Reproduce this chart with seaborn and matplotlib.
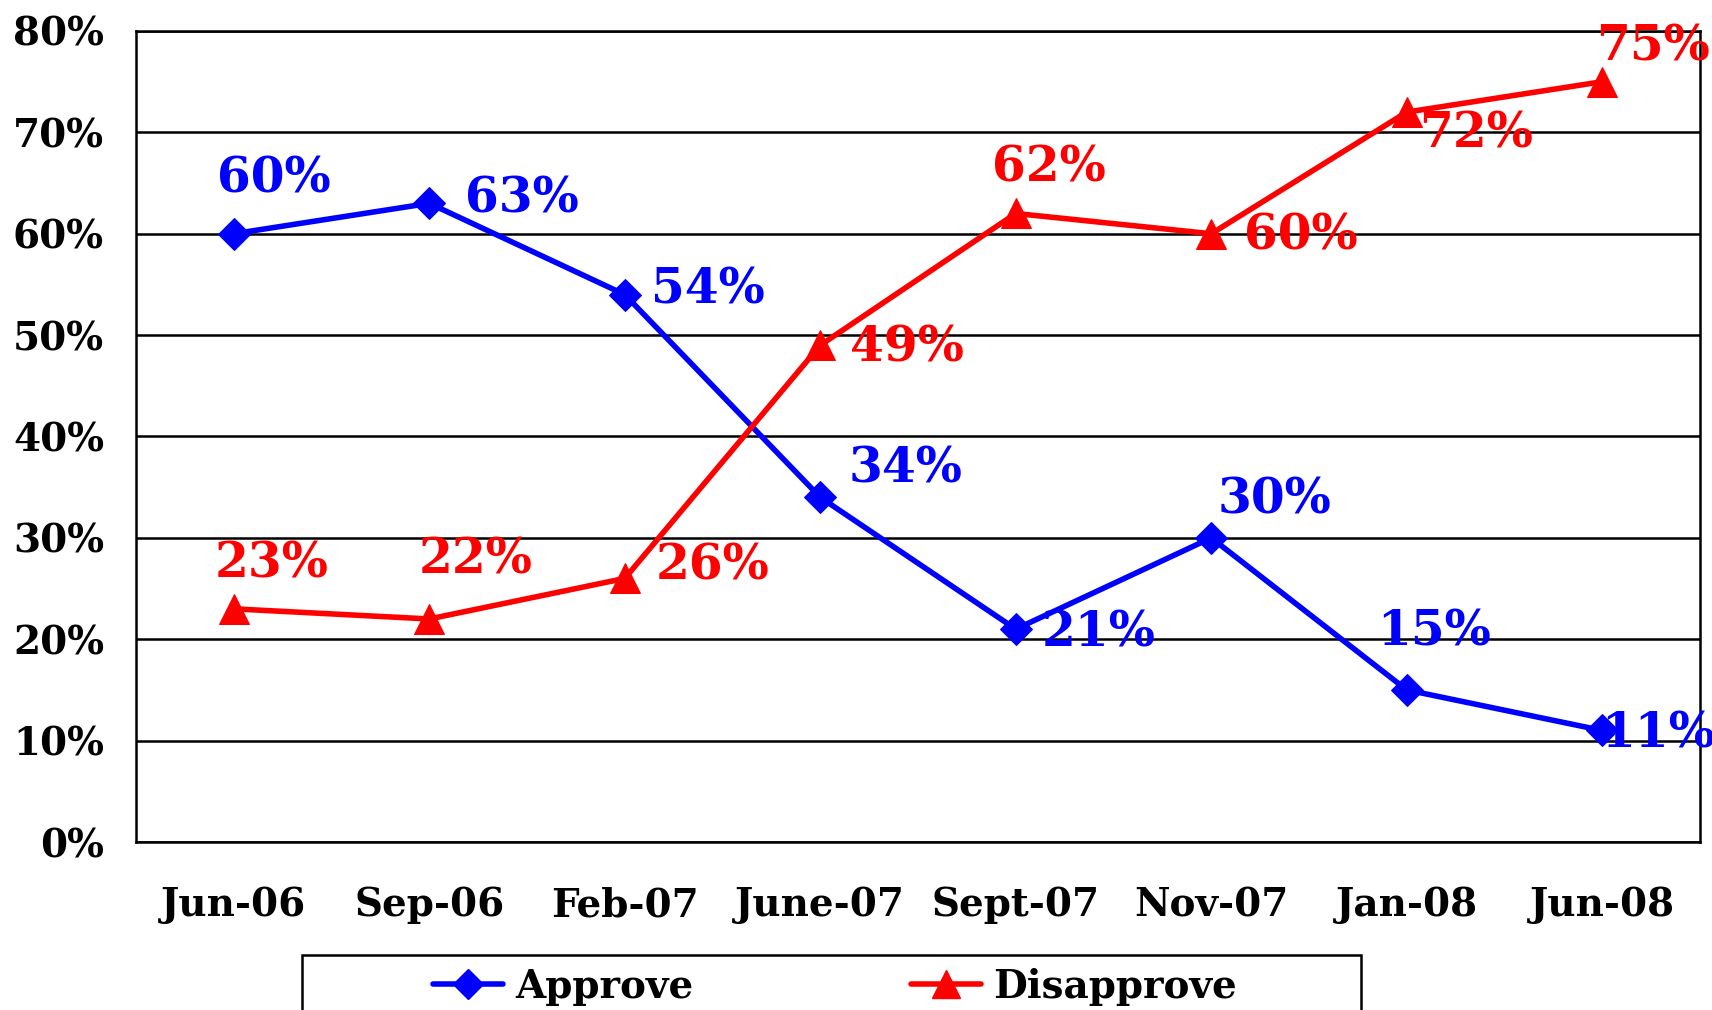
import matplotlib
matplotlib.use('Agg')
import matplotlib.pyplot as plt
import matplotlib.lines as mlines
import matplotlib.patches as mpatches
import numpy as np
import pandas as pd
import seaborn as sns

months = ['Jun-06', 'Sep-06', 'Feb-07', 'June-07', 'Sept-07', 'Nov-07', 'Jan-08', 'Jun-08']
approve = [60, 63, 54, 34, 21, 30, 15, 11]
disapprove = [23, 22, 26, 49, 62, 60, 72, 75]
y_ticks = [0, 10, 20, 30, 40, 50, 60, 70, 80]

# label offsets in pixels (dx, dy) from each point
approve_offsets = [(40, 55), (93, 4), (83, 5), (85, 28), (83, -4), (63, 38), (27, 58), (56, -4)]
disapprove_offsets = [(38, 45), (46, 59), (88, 12), (87, -3), (33, 45), (90, -2), (69, -22), (51, 35)]

sns.set_style('white')
plt.rcParams['font.family'] = ['DejaVu Serif']
plt.rcParams['font.weight'] = 'bold'
plt.rcParams['text.color'] = 'black'
plt.rcParams['xtick.color'] = 'black'
plt.rcParams['ytick.color'] = 'black'

df = pd.DataFrame({
    'x': list(range(len(months))) * 2,
    'value': approve + disapprove,
    'series': ['Approve'] * len(months) + ['Disapprove'] * len(months),
})

colors = {'Approve': '#0000FF', 'Disapprove': '#FF0000'}
marker_map = {'Approve': 'D', 'Disapprove': '^'}
marker_sizes = {'Approve': 16, 'Disapprove': 21}

fig = plt.figure(figsize=(17.12, 10.10), dpi=100)
ax = fig.add_axes([136 / 1712, 1 - 842 / 1010, (1700 - 136) / 1712, (842 - 31) / 1010])

for name in ['Approve', 'Disapprove']:
    sub = df[df['series'] == name]
    sns.lineplot(data=sub, x='x', y='value', ax=ax, color=colors[name], linewidth=4,
                 marker=marker_map[name], markersize=marker_sizes[name],
                 markeredgecolor=colors[name], legend=False, zorder=3)

for vals, offs, name in [(approve, approve_offsets, 'Approve'), (disapprove, disapprove_offsets, 'Disapprove')]:
    for i, (v, o) in enumerate(zip(vals, offs)):
        ax.annotate(f'{v}%', (i, v), xytext=o, textcoords='offset pixels',
                    ha='center', va='center', fontsize=35, fontweight='bold',
                    color=colors[name], zorder=4, annotation_clip=False)

ax.set_xlim(-0.5, len(months) - 0.5)
ax.set_ylim(0, 80)
ax.set_yticks(y_ticks)
ax.set_yticklabels([f'{t}%' for t in y_ticks], fontsize=28, fontweight='bold')
ax.set_xticks(range(len(months)))
ax.set_xticklabels(months, fontsize=28, fontweight='bold')
ax.set_xticks(np.arange(-0.5, len(months), 1.0), minor=True)
ax.tick_params(axis='x', which='major', length=0, pad=32)
ax.tick_params(axis='x', which='minor', length=11, width=1.8, direction='out', color='black')
ax.tick_params(axis='y', length=13, width=1.8, direction='out', color='black', pad=10)
ax.grid(axis='y', color='black', linewidth=1.8)
ax.set_axisbelow(True)
for side in ['left', 'bottom', 'right', 'top']:
    ax.spines[side].set_visible(True)
    ax.spines[side].set_color('black')
    ax.spines[side].set_linewidth(1.8)
ax.set_xlabel('')
ax.set_ylabel('')

# legend frame runs off the bottom of the figure
frame = mpatches.Rectangle((302 / 1712, -0.2), (1361 - 302) / 1712, 0.2 + 1 - 955 / 1010,
                           transform=fig.transFigure, fill=False, edgecolor='black', linewidth=1.8)
fig.patches.append(frame)

handles = [mlines.Line2D([], [], color=colors[n], marker=marker_map[n], markersize=marker_sizes[n] - 1,
                         linewidth=4, label=n) for n in ['Approve', 'Disapprove']]
leg = fig.legend(handles=handles, loc='center', ncol=2, bbox_to_anchor=(835 / 1712, 1 - 987 / 1010),
                 frameon=False, prop={'weight': 'bold', 'size': 28}, handlelength=1.8,
                 handletextpad=0.3, columnspacing=5.6, borderpad=0, borderaxespad=0)

fig.savefig('out.png', dpi=100)
